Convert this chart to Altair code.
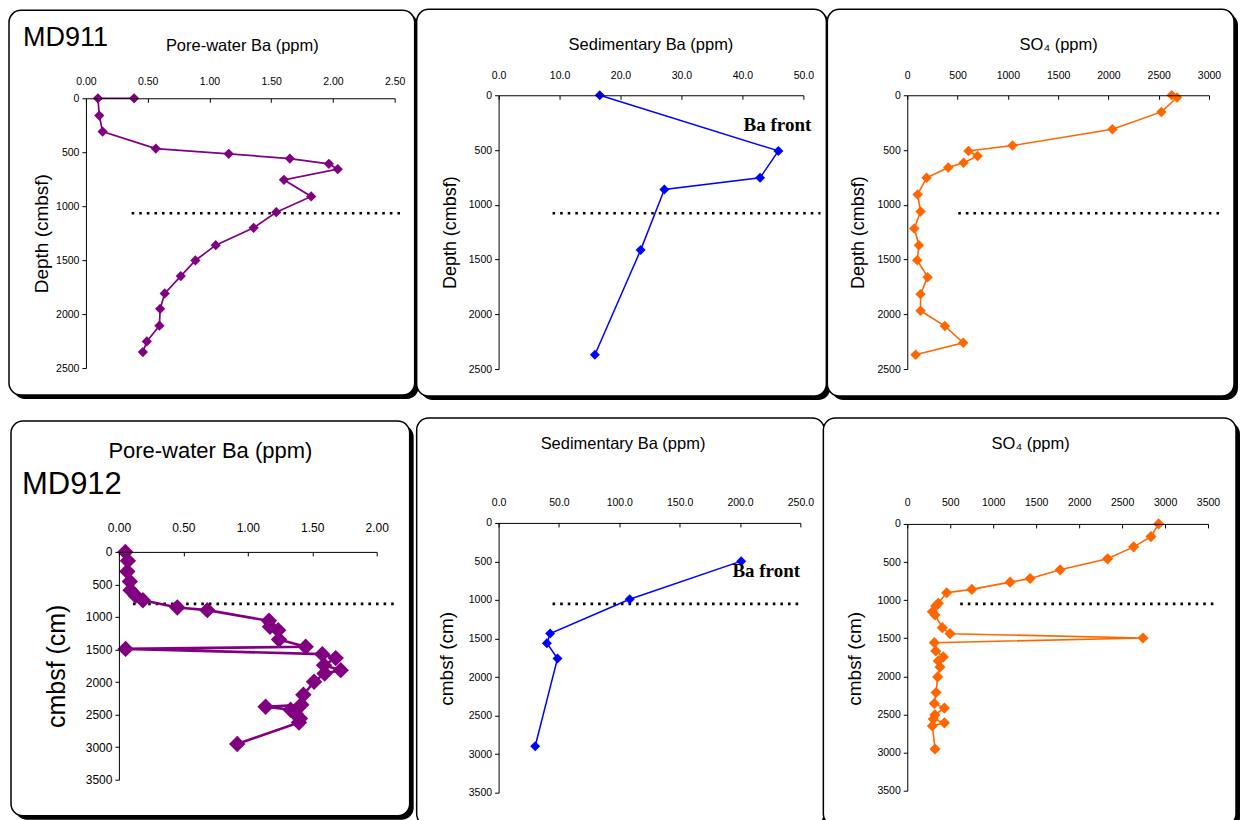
import altair as alt
import pandas as pd

# ---------------- data ----------------
# MD911 pore-water Ba (ppm) vs depth (cmbsf)
pw1_ba = [0.39, 0.097, 0.108, 0.135, 0.566, 1.156, 1.651, 1.967, 2.039, 1.603, 1.824,
          1.541, 1.358, 1.051, 0.886, 0.768, 0.638, 0.601, 0.595, 0.493, 0.461]
pw1_depth = [0, 0, 160, 309, 466, 515, 559, 608, 657, 756, 910,
             1056, 1201, 1361, 1503, 1648, 1809, 1951, 2108, 2253, 2352]

# MD911 sedimentary Ba (ppm)
sed1_ba = [16.6, 45.9, 42.9, 27.2, 23.3, 15.8]
sed1_depth = [0, 508, 754, 861, 1414, 2369]

# MD911 SO4 (ppm)
so4_1 = [2629, 2682, 2526, 2040, 1046, 609, 699, 560, 407, 192, 103,
         132, 70, 116, 99, 202, 132, 132, 374, 556, 83]
so4_1_depth = [0, 21, 152, 310, 459, 508, 554, 617, 660, 754, 906,
               1061, 1217, 1369, 1506, 1661, 1816, 1968, 2108, 2260, 2369]

# MD912 pore-water Ba (ppm)
pw2_ba = [0.05, 0.07, 0.065, 0.085, 0.09, 0.13, 0.186, 0.453, 0.686, 1.164,
          1.172, 1.236, 1.242, 1.449, 0.052, 1.578, 1.682, 1.591, 1.721, 1.596,
          1.514, 1.431, 1.415, 1.138, 1.332, 1.371, 1.405, 1.397, 0.918]
pw2_depth = [0, 138, 302, 455, 588, 675, 742, 855, 895, 1059,
             1151, 1202, 1346, 1458, 1490, 1571, 1632, 1740, 1817, 1868,
             1996, 2195, 2349, 2379, 2425, 2492, 2558, 2620, 2952]

# MD912 sedimentary Ba (ppm)
sed2_ba = [201.0, 108.6, 42.7, 40.0, 48.8, 30.3]
sed2_depth = [496, 991, 1435, 1560, 1759, 2897]

# MD912 SO4 (ppm)
so4_2 = [2925, 2836, 2634, 2331, 1779, 1430, 1197, 751, 459, 361,
         331, 292, 323, 408, 498, 2743, 315, 331, 420, 361,
         381, 354, 335, 315, 432, 322, 303, 432, 292, 323]
so4_2_depth = [0, 166, 301, 458, 602, 716, 764, 859, 903, 1042,
               1077, 1152, 1195, 1361, 1440, 1497, 1558, 1667, 1745, 1797,
               1876, 2007, 2212, 2356, 2416, 2505, 2560, 2610, 2650, 2953]

# dotted "front" lines: x start, x end, depth
front1 = [0.37, 2.55, 1065]
front2 = [8.85, 52.8, 1077]
front3 = [507, 3129, 1077]
front4 = [0.109, 2.16, 798]
front5 = [44.7, 251.7, 1050]
front6 = [616, 3581, 1049]

# tick values
ticks_pw1 = [0, 0.5, 1.0, 1.5, 2.0, 2.5]
ticks_sed1 = [0, 10, 20, 30, 40, 50]
ticks_so41 = [0, 500, 1000, 1500, 2000, 2500, 3000]
ticks_pw2 = [0, 0.5, 1.0, 1.5, 2.0]
ticks_sed2 = [0, 50, 100, 150, 200, 250]
ticks_so42 = [0, 500, 1000, 1500, 2000, 2500, 3000, 3500]
depth_ticks_1 = [0, 500, 1000, 1500, 2000, 2500]
depth_ticks_2 = [0, 500, 1000, 1500, 2000, 2500, 3000, 3500]

FONT = "Liberation Sans"
CELL_W = 410
CELL_H = 400
PURPLE = "#800080"
BLUE = "#0000FF"
ORANGE = "#FF6600"


def one():
    return pd.DataFrame({"k": [0]})


def panel(vals, depths, color, msize, lw, xdom, xticks, xfmt, ydom, yticks,
          xr, yr, box, xtitle, xtx, xty, xts, ytitle, ytx, yty, yts,
          lab_size, lab_gap, front, labels=(), note=None):
    df = pd.DataFrame({"v": vals, "d": depths, "i": list(range(len(vals)))})
    xaxis = alt.Axis(orient="bottom", offset=yr[0] - CELL_H, values=xticks, format=xfmt,
                     tickSize=4, labelPadding=-(4 + lab_gap), labelBaseline="alphabetic",
                     labelFlush=False, labelOverlap=False, labelFontSize=lab_size,
                     title=xtitle, titleX=xtx, titleY=xty, titleFontSize=xts,
                     titleAlign="center", titleBaseline="alphabetic", titleAngle=0,
                     grid=False, zindex=1)
    yaxis = alt.Axis(orient="left", offset=-xr[0], values=yticks, format="d",
                     tickSize=4, labelPadding=3, labelFontSize=lab_size,
                     labelFlush=False, labelOverlap=False,
                     title=ytitle, titleX=ytx, titleY=yty, titleFontSize=yts,
                     titleAngle=270, titleAlign="center", titleBaseline="alphabetic",
                     grid=False, zindex=1)
    xs = alt.Scale(domain=xdom, range=xr, nice=False, zero=False)
    ys = alt.Scale(domain=ydom, range=yr, nice=False, zero=False)

    bx1, by1, bx2, by2 = box
    shadow = alt.Chart(one()).mark_rect(fill="black", cornerRadius=12).encode(
        x=alt.value(bx1 + 4), x2=alt.value(bx2 + 4), y=alt.value(by1 + 4), y2=alt.value(by2 + 4))
    frame = alt.Chart(one()).mark_rect(fill="white", stroke="black", strokeWidth=1.5,
                                       cornerRadius=12).encode(
        x=alt.value(bx1), x2=alt.value(bx2), y=alt.value(by1), y2=alt.value(by2))

    fdf = pd.DataFrame({"v": [front[0]], "v2": [front[1]], "d": [front[2]]})
    rule = alt.Chart(fdf).mark_rule(color="black", strokeWidth=2.6, strokeDash=[2.6, 5.0]).encode(
        x=alt.X("v:Q", scale=xs, axis=xaxis), x2="v2:Q",
        y=alt.Y("d:Q", scale=ys, axis=yaxis))
    line = alt.Chart(df).mark_line(color=color, strokeWidth=lw).encode(
        x=alt.X("v:Q", scale=xs, axis=xaxis), y=alt.Y("d:Q", scale=ys, axis=yaxis),
        order="i:Q")
    pts = alt.Chart(df).mark_point(shape="diamond", filled=True, size=msize, color=color,
                                   opacity=1).encode(
        x=alt.X("v:Q", scale=xs, axis=xaxis), y=alt.Y("d:Q", scale=ys, axis=yaxis))
    layers = [shadow, frame, rule, line, pts]
    for (tx, ty, txt, fs) in labels:
        layers.append(alt.Chart(one()).mark_text(align="left", baseline="alphabetic",
                                                 font=FONT, fontSize=fs, color="black").encode(
            x=alt.value(tx), y=alt.value(ty), text=alt.value(txt)))
    if note is not None:
        ndf = pd.DataFrame({"v": [note[0]], "d": [note[1]], "t": ["Ba front"]})
        layers.append(alt.Chart(ndf).mark_text(align="left", baseline="alphabetic",
                                               font="Liberation Serif", fontWeight="bold",
                                               fontSize=19, color="black").encode(
            x=alt.X("v:Q", scale=xs, axis=xaxis), y=alt.Y("d:Q", scale=ys, axis=yaxis),
            text="t:N"))
    return alt.layer(*layers).properties(width=CELL_W, height=CELL_H)


p1 = panel(pw1_ba, pw1_depth, PURPLE, 105, 1.7, [0, 2.5], ticks_pw1, ".2f", [0, 2500], depth_ticks_1,
           [77, 386], [89, 359], (0, 1, 406, 386),
           "Pore-water Ba (ppm)", 233, -48, 16.5, "Depth (cmbsf)", -38, 224, 19,
           10.5, 14, front1, labels=[(14, 37, "MD911", 27)])
p2 = panel(sed1_ba, sed1_depth, BLUE, 100, 1.5, [0, 50], ticks_sed1, ".1f", [0, 2500], depth_ticks_1,
           [80, 385], [86, 360], (-2, 0, 408, 387),
           "Sedimentary Ba (ppm)", 232, -46, 16.5, "Depth (cmbsf)", -43, 223, 18,
           10.5, 17, front2, note=(40.2, 328))
p3 = panel(so4_1, so4_1_depth, ORANGE, 110, 1.6, [0, 3000], ticks_so41, "d", [0, 2500], depth_ticks_1,
           [79, 381], [86, 360], (-1, 0, 406, 387),
           "SO\u2084 (ppm)", 230, -46, 16.5, "Depth (cmbsf)", -44, 223, 18,
           10.5, 17, front3)
p4 = panel(pw2_ba, pw2_depth, PURPLE, 270, 2.6, [0, 2.0], ticks_pw2, ".2f", [0, 3500], depth_ticks_2,
           [110, 368], [143, 371], (2, 12, 401, 407),
           "Pore-water Ba (ppm)", 201, -94, 22, "cmbsf (cm)", -54, 257, 25,
           12, 20, front4, labels=[(13, 85, "MD912", 31)])
p5 = panel(sed2_ba, sed2_depth, BLUE, 100, 1.5, [0, 250], ticks_sed2, ".1f", [0, 3500], depth_ticks_2,
           [80, 382], [114, 384], (-2, 9, 406, 417),
           "Sedimentary Ba (ppm)", 204, -74, 16.5, "cmbsf (cm)", -46, 249.5, 19,
           10.5, 17, front5, note=(193.7, 700))
p6 = panel(so4_2, so4_2_depth, ORANGE, 125, 1.6, [0, 3500], ticks_so42, "d", [0, 3500], depth_ticks_2,
           [79, 380], [115, 382], (-5, 9, 408, 417),
           "SO\u2084 (ppm)", 202, -75, 16.5, "cmbsf (cm)", -47, 249.5, 19,
           10.5, 18, front6)

chart = alt.concat(p1, p2, p3, p4, p5, p6, columns=3, spacing=0, bounds="flush").properties(
    padding=0
).configure_view(
    strokeWidth=0
).configure_axis(
    domainColor="black", tickColor="black", labelColor="black", titleColor="black",
    labelFont=FONT, titleFont=FONT, titleFontWeight="normal", domainWidth=1
)

chart.save("out.html", embed_options={"renderer": "svg", "actions": False})
